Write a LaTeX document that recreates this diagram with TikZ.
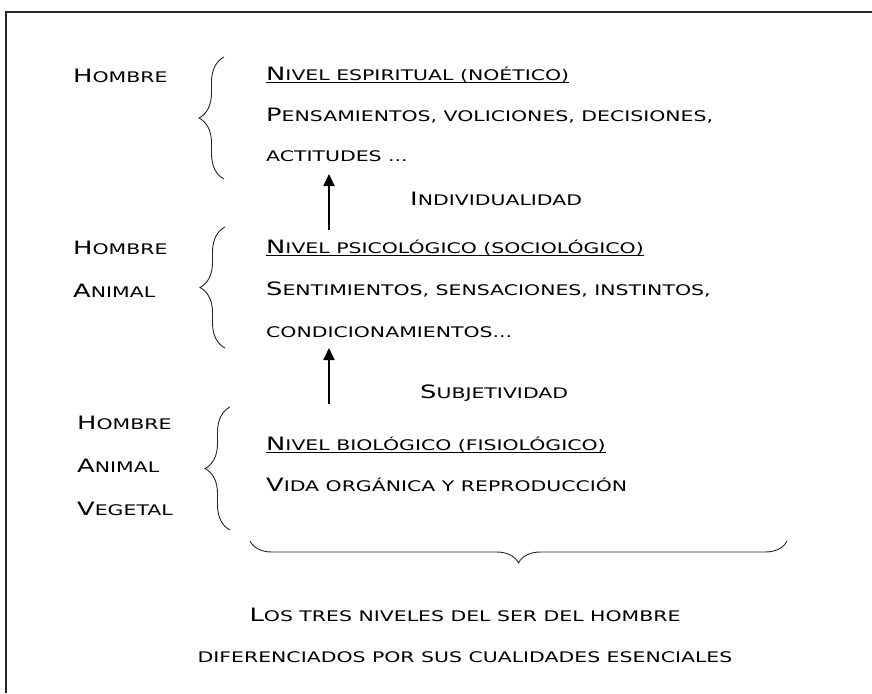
\documentclass[tikz,border=0pt]{standalone}
\usepackage{fontspec}
\setmainfont{DejaVu Sans}[FakeStretch=1.4]
\usetikzlibrary{decorations.pathreplacing,arrows.meta}

% large initials for the small-caps look
\newcommand{\up}[1]{{\fontsize{18.4}{21}\selectfont #1}}

\begin{document}
\begin{tikzpicture}[x=1pt, y=-1pt,
		txt/.style={anchor=base west, inner sep=0pt, font=\fontsize{14.6}{17}\selectfont},
		mid/.style={txt, anchor=base},
		brc/.style={draw=black!85, line width=0.9pt, decorate, decoration={brace, amplitude=25pt}},
		uln/.style={line width=1.3pt},
		arr/.style={line width=1.8pt, -{Triangle[length=12pt, width=11pt]}}]
	\useasboundingbox (0,0) rectangle (872,693);
	\draw[line width=1.5pt, black!85] (872,12) -- (6,12) -- (6,693);

	% level 1
	\node[txt] (h1) at (73, 82) {\up{H}OMBRE};
	\node[txt] (nv1) at (266, 80) {\up{N}IVEL ESPIRITUAL (NOÉTICO)};
	\node[txt] (d1a) at (266, 121) {\up{P}ENSAMIENTOS, VOLICIONES, DECISIONES,};
	\node[txt] (d1b) at (266, 161) {ACTITUDES ...};
	\draw[uln] ([yshift=-2.5pt]nv1.base west) -- ([yshift=-2.5pt]nv1.base east);
	\draw[brc] (224, 179) -- (224, 57);

	\node[txt] (ind) at (410, 205) {\up{I}NDIVIDUALIDAD};
	\coordinate (a1s) at (329, 230);
	\coordinate (a1e) at (329, 174);
	\draw[arr] (a1s) -- (a1e);

	% level 2
	\node[txt] (h2) at (73, 254) {\up{H}OMBRE};
	\node[txt] (an2) at (73, 297) {\up{A}NIMAL};
	\node[txt] (nv2) at (266, 253) {\up{N}IVEL PSICOLÓGICO (SOCIOLÓGICO)};
	\node[txt] (d2a) at (266, 295) {\up{S}ENTIMIENTOS, SENSACIONES, INSTINTOS,};
	\node[txt] (d2b) at (266, 337) {CONDICIONAMIENTOS...};
	\draw[uln] ([yshift=-2.5pt]nv2.base west) -- ([yshift=-2.5pt]nv2.base east);
	\draw[brc] (225, 348) -- (225, 227);

	\node[txt] (sub) at (420, 398) {\up{S}UBJETIVIDAD};
	\coordinate (a2s) at (329, 404);
	\coordinate (a2e) at (329, 348);
	\draw[arr] (a2s) -- (a2e);

	% level 3
	\node[txt] (h3) at (77, 429) {\up{H}OMBRE};
	\node[txt] (an3) at (77, 472) {\up{A}NIMAL};
	\node[txt] (v3) at (77, 515) {\up{V}EGETAL};
	\node[txt] (nv3) at (266, 450) {\up{N}IVEL BIOLÓGICO (FISIOLÓGICO)};
	\node[txt] (d3) at (266, 491) {\up{V}IDA ORGÁNICA Y REPRODUCCIÓN};
	\draw[uln] ([yshift=-2.5pt]nv3.base west) -- ([yshift=-2.5pt]nv3.base east);
	\draw[brc] (230, 530) -- (230, 407);

	% caption
	\draw[brc, decoration={amplitude=22pt}] (787, 541) -- (250, 541);
	\node[mid] (cap1) at (465, 621) {\up{L}OS TRES NIVELES DEL SER DEL HOMBRE};
	\node[mid] (cap2) at (465, 662) {DIFERENCIADOS POR SUS CUALIDADES ESENCIALES};
\end{tikzpicture}
\end{document}
